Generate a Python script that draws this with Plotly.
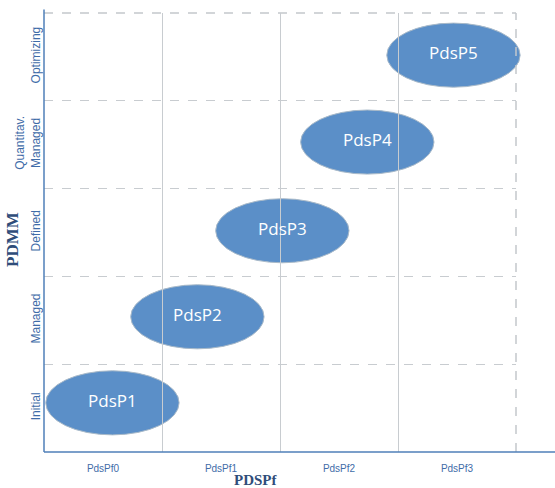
import plotly.graph_objects as go

x_categories = ["PdsPf0", "PdsPf1", "PdsPf2", "PdsPf3"]
y_categories = ["Initial", "Managed", "Defined", "Quantitav.<br>Managed", "Optimizing"]
ellipse_labels = ["PdsP1", "PdsP2", "PdsP3", "PdsP4", "PdsP5"]
ellipse_x = [0.58, 1.30, 2.02, 2.74, 3.47]
ellipse_y = [0.56, 1.54, 2.52, 3.53, 4.52]
ellipse_w = 1.13
ellipse_h = 0.73

X_MAX, Y_MAX = 4, 5
PLOT_W, PLOT_H = 472, 439

fig = go.Figure()

fig.add_trace(go.Scatter(
    x=ellipse_x, y=ellipse_y, mode="text", text=ellipse_labels,
    textfont=dict(family="Open Sans", size=17, color="white"),
    showlegend=False, hoverinfo="skip", cliponaxis=False,
))

# ellipses in paper coordinates (derived from data) so they are not clipped at the frame
for cx, cy in zip(ellipse_x, ellipse_y):
    fig.add_shape(type="circle", xref="paper", yref="paper",
                  x0=(cx - ellipse_w / 2) / X_MAX, x1=(cx + ellipse_w / 2) / X_MAX,
                  y0=(cy - ellipse_h / 2) / Y_MAX, y1=(cy + ellipse_h / 2) / Y_MAX,
                  fillcolor="#5b8fc8", line=dict(color="#a9bac9", width=1),
                  layer="between")

# outer dashed border top and right
fig.add_shape(type="line", xref="paper", yref="paper", x0=0, x1=1, y0=1, y1=1,
              line=dict(color="#c4c8cc", width=1.5, dash="dash"), layer="below")
fig.add_shape(type="line", xref="paper", yref="paper", x0=1, x1=1, y0=0, y1=1,
              line=dict(color="#c4c8cc", width=1.5, dash="dash"), layer="below")
# blue axis lines
fig.add_shape(type="line", xref="paper", yref="paper", x0=0, x1=1.083, y0=0, y1=0,
              line=dict(color="#4f7fb8", width=1.5), layer="above")
fig.add_shape(type="line", xref="paper", yref="paper", x0=0, x1=0, y0=0, y1=1.008,
              line=dict(color="#4f7fb8", width=1.5), layer="above")

fig.add_annotation(text="<b>PDSPf</b>", xref="paper", yref="paper",
                   x=(256 - 44) / PLOT_W, y=-28 / PLOT_H, xanchor="center", yanchor="middle",
                   showarrow=False,
                   font=dict(family="Liberation Serif", size=15, color="#2f4d7a"))
fig.add_annotation(text="<b>PDMM</b>", xref="paper", yref="paper", textangle=-90,
                   x=-31 / PLOT_W, y=(452 - 239) / PLOT_H, xanchor="center", yanchor="middle",
                   showarrow=False,
                   font=dict(family="Liberation Serif", size=17, color="#2f4d7a"))

fig.update_layout(
    width=555, height=488,
    margin=dict(l=44, r=39, t=13, b=36),
    plot_bgcolor="white", paper_bgcolor="white",
    showlegend=False,
    xaxis=dict(
        range=[0, X_MAX], tickvals=[0.5, 1.5, 2.5, 3.5], ticktext=x_categories,
        showgrid=False, zeroline=False, showline=False, ticks="",
        automargin=False, ticklabelstandoff=9,
        tickfont=dict(family="Liberation Sans Narrow, Liberation Sans", size=10, color="#3f6ca8"),
        minor=dict(tickvals=[1, 2, 3], showgrid=True, gridcolor="#c8ccd0", gridwidth=1.2),
        fixedrange=True,
    ),
    yaxis=dict(
        range=[0, Y_MAX], tickvals=[0.5, 1.5, 2.5, 3.5, 4.5], ticktext=y_categories,
        tickangle=-90, automargin=False, ticklabelstandoff=1,
        showgrid=False, zeroline=False, showline=False, ticks="",
        tickfont=dict(family="Liberation Sans", size=12, color="#3f6ca8"),
        minor=dict(tickvals=[1, 2, 3, 4], showgrid=True, gridcolor="#c8ccd0",
                   gridwidth=1.2, griddash="dash"),
        fixedrange=True,
    ),
)

fig.write_html("out.html", config={"displayModeBar": False},
               post_script="document.body.style.margin='0';document.body.style.overflow='hidden';")
